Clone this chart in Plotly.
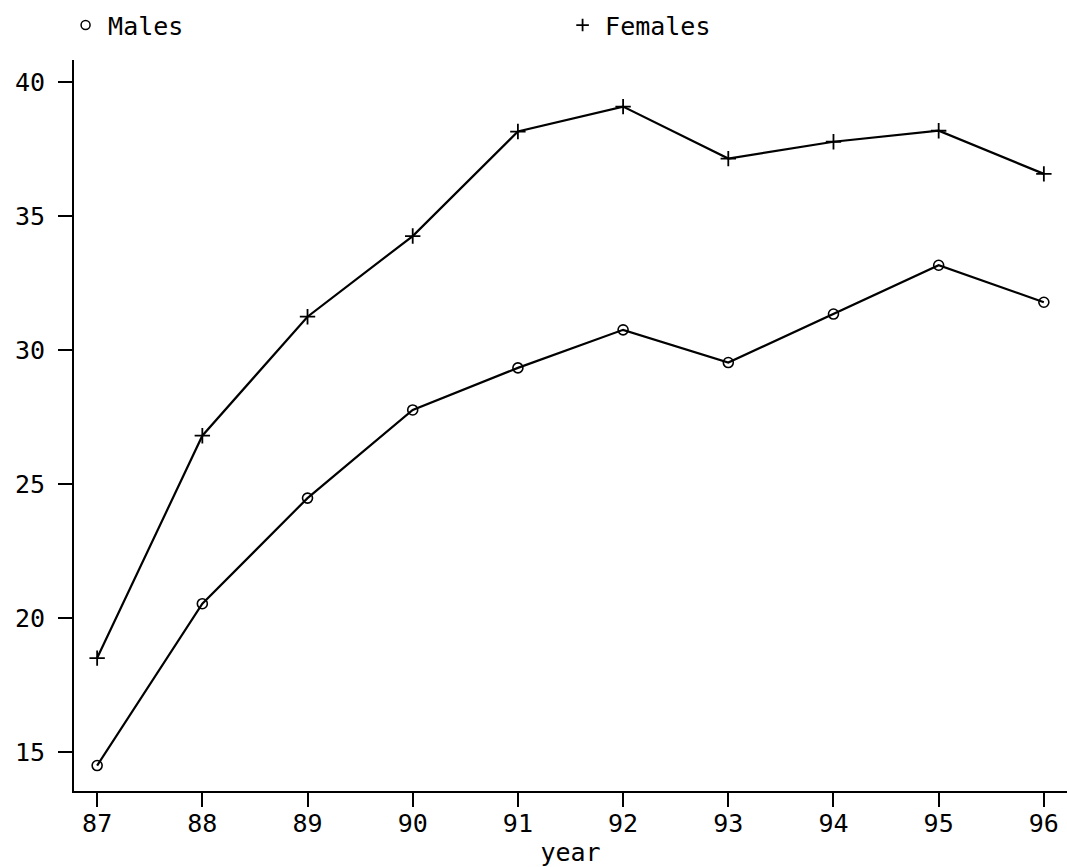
import plotly.graph_objects as go

years = [87, 88, 89, 90, 91, 92, 93, 94, 95, 96]
males = [14.49, 20.53, 24.47, 27.76, 29.33, 30.75, 29.53, 31.34, 33.16, 31.78]
females = [18.5, 26.8, 31.24, 34.25, 38.15, 39.08, 37.14, 37.77, 38.18, 36.57]
y_ticks = [15, 20, 25, 30, 35, 40]

FONT = "DejaVu Sans Mono"

fig = go.Figure()
fig.add_trace(go.Scatter(
    x=years, y=males, mode="lines+markers", showlegend=False,
    line=dict(color="black", width=2.2),
    marker=dict(symbol="circle-open", size=10, color="black", line=dict(width=1.6)),
))
fig.add_trace(go.Scatter(
    x=years, y=females, mode="lines+markers", showlegend=False,
    line=dict(color="black", width=2.2),
    marker=dict(symbol="cross-thin-open", size=11, color="black", line=dict(width=1.8)),
))
# legend entries (markers only)
fig.add_trace(go.Scatter(
    x=[None], y=[None], mode="markers", name="Males",
    marker=dict(symbol="circle-open", size=9, color="black", line=dict(width=1.5)),
))
fig.add_trace(go.Scatter(
    x=[None], y=[None], mode="markers", name="Females",
    marker=dict(symbol="cross-thin-open", size=9, color="black", line=dict(width=1.8)),
))

fig.update_layout(
    width=1067, height=867,
    margin=dict(l=74, r=0, t=60, b=76),
    paper_bgcolor="white", plot_bgcolor="white",
    font=dict(family=FONT, size=25, color="black"),
    legend=dict(
        orientation="h", x=-0.011, y=1.016, xanchor="left", yanchor="bottom",
        entrywidth=447, entrywidthmode="pixels", itemwidth=35,
        font=dict(family=FONT, size=25, color="black"),
        bgcolor="rgba(0,0,0,0)", itemclick=False,
    ),
    xaxis=dict(
        range=[86.78, 96.22], tickmode="array", tickvals=years,
        ticktext=[str(y) for y in years],
        showgrid=False, zeroline=False, showline=True, linecolor="black", linewidth=2,
        ticks="outside", ticklen=14, tickwidth=1.5, tickcolor="black",
        ticklabelstandoff=-5,
        title=dict(text="year", standoff=8, font=dict(family=FONT, size=25)),
    ),
    yaxis=dict(
        range=[13.54, 40.82], tickmode="array", tickvals=y_ticks,
        showgrid=False, zeroline=False, showline=True, linecolor="black", linewidth=2,
        ticks="outside", ticklen=14, tickwidth=1.5, tickcolor="black",
        ticklabelstandoff=8,
    ),
)

fig.write_html("out.html", config={"displayModeBar": False},
               post_script="document.body.style.margin='0';")
